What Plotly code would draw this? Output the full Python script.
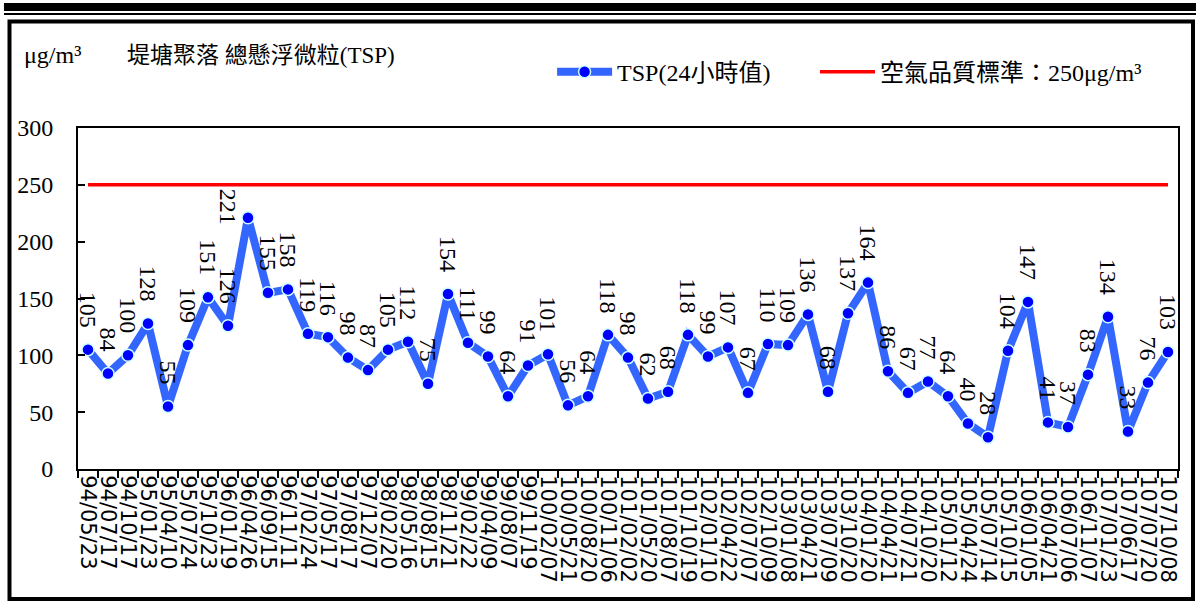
import plotly.graph_objects as go

# ---------------- data ----------------
dates = [
    "94/05/23", "94/07/17", "94/10/17", "95/01/23", "95/04/10", "95/07/24",
    "95/10/23", "96/01/19", "96/04/26", "96/09/15", "96/11/11", "97/02/24",
    "97/05/17", "97/08/17", "97/12/07", "98/02/20", "98/05/16", "98/08/15",
    "98/11/21", "99/02/22", "99/04/09", "99/08/07", "99/11/19", "100/02/07",
    "100/05/21", "100/08/20", "100/11/06", "101/02/02", "101/05/20", "101/08/07",
    "101/10/19", "102/01/10", "102/04/22", "102/07/07", "102/10/09", "103/01/08",
    "103/04/21", "103/07/09", "103/10/20", "104/01/20", "104/04/21", "104/07/21",
    "104/10/20", "105/01/12", "105/04/24", "105/07/14", "105/10/15", "106/01/05",
    "106/04/21", "106/07/06", "106/11/07", "107/01/23", "107/06/17", "107/07/20",
    "107/10/08",
]
tsp = [
    105, 84, 100, 128, 55, 109, 151, 126, 221, 155, 158, 119, 116, 98, 87,
    105, 112, 75, 154, 111, 99, 64, 91, 101, 56, 64, 118, 98, 62, 68,
    118, 99, 107, 67, 110, 109, 136, 68, 137, 164, 86, 67, 77, 64, 40,
    28, 104, 147, 41, 37, 83, 134, 33, 76, 103,
]
standard = 250
y_ticks = [0, 50, 100, 150, 200, 250, 300]

series_name = "TSP(24小時值)"
standard_name = "空氣品質標準：250μg/m³"
unit_text = "μg/m³"
title_text = "堤塘聚落 總懸浮微粒(TSP)"

SERIF = "Liberation Serif, Times New Roman, Noto Sans CJK TC"

# ---------------- figure ----------------
fig = go.Figure()

fig.add_trace(go.Scatter(
    x=dates, y=tsp, mode="lines+markers", name=series_name, legend="legend",
    line=dict(color="#3366FF", width=8),
    marker=dict(color="#0000FF", size=12, line=dict(color="#CCFFFF", width=1.5)),
))
fig.add_trace(go.Scatter(
    x=[dates[0], dates[-1]], y=[standard, standard], mode="lines",
    name=standard_name, legend="legend2",
    line=dict(color="#FF0000", width=3.5),
))

# rotated value labels
label_tweaks = {8: (-20, -9)}
for i, (d, v) in enumerate(zip(dates, tsp)):
    xs, ys = label_tweaks.get(i, (0, 20))
    fig.add_annotation(
        x=d, y=v, text=str(v), showarrow=False, textangle=90,
        xanchor="center", yanchor="bottom", xshift=xs, yshift=ys,
        font=dict(family=SERIF, size=24, color="black"),
    )

# unit + title
fig.add_annotation(
    xref="paper", yref="paper", x=-0.051, y=1.214, xanchor="left", yanchor="middle",
    text=unit_text, showarrow=False, font=dict(family=SERIF, size=24, color="black"),
)
fig.add_annotation(
    xref="paper", yref="paper", x=0.043, y=1.214, xanchor="left", yanchor="middle",
    text=title_text, showarrow=False, font=dict(family=SERIF, size=23, color="black"),
)

# decorative frame: double bar on top and outer box
fig.add_shape(type="rect", xref="paper", yref="paper",
              x0=-0.0673, x1=1.02, y0=1.3431, y1=1.3666,
              fillcolor="black", line=dict(width=0), layer="above")
fig.add_shape(type="rect", xref="paper", yref="paper",
              x0=-0.0673, x1=1.02, y0=1.3314, y1=1.3372,
              fillcolor="black", line=dict(width=0), layer="above")
fig.add_shape(type="rect", xref="paper", yref="paper",
              x0=(9.5 - 78) / 1100, x1=(1193 - 78) / 1100,
              y0=(469 - 599) / 341, y1=(469 - 21.5) / 341,
              line=dict(color="black", width=4), fillcolor="rgba(0,0,0,0)", layer="above")

legend_common = dict(
    orientation="h", y=1.164, xanchor="left", yanchor="middle",
    font=dict(family=SERIF, size=24, color="black"),
    itemwidth=55, bgcolor="rgba(0,0,0,0)",
)

fig.update_layout(
    width=1196, height=601,
    margin=dict(l=78, r=18, t=128, b=132, autoexpand=False),
    paper_bgcolor="white", plot_bgcolor="white",
    showlegend=True,
    legend=dict(x=0.431, **legend_common),
    legend2=dict(x=0.670, **legend_common),
    xaxis=dict(
        type="category", range=[-0.5, len(dates) - 0.5],
        tickmode="array", tickvals=dates, ticktext=dates,
        showline=True, linecolor="black", linewidth=2, mirror=True,
        ticks="outside", tickson="boundaries", ticklen=7, tickcolor="black", tickwidth=1.5,
        tickangle=90, showgrid=False, zeroline=False,
        tickfont=dict(family="DejaVu Sans", size=21, color="black"),
    ),
    yaxis=dict(
        range=[0, 300], tickvals=y_ticks,
        showline=True, linecolor="black", linewidth=2, mirror=True,
        ticks="inside", ticklen=7, tickcolor="black", tickwidth=1.5,
        showgrid=False, zeroline=False, ticklabelstandoff=18,
        tickfont=dict(family=SERIF, size=24, color="black"),
    ),
)

fig.write_html(
    "out.html",
    config={"displayModeBar": False},
    post_script="document.body.style.margin='0';document.body.style.overflow='hidden';",
)
